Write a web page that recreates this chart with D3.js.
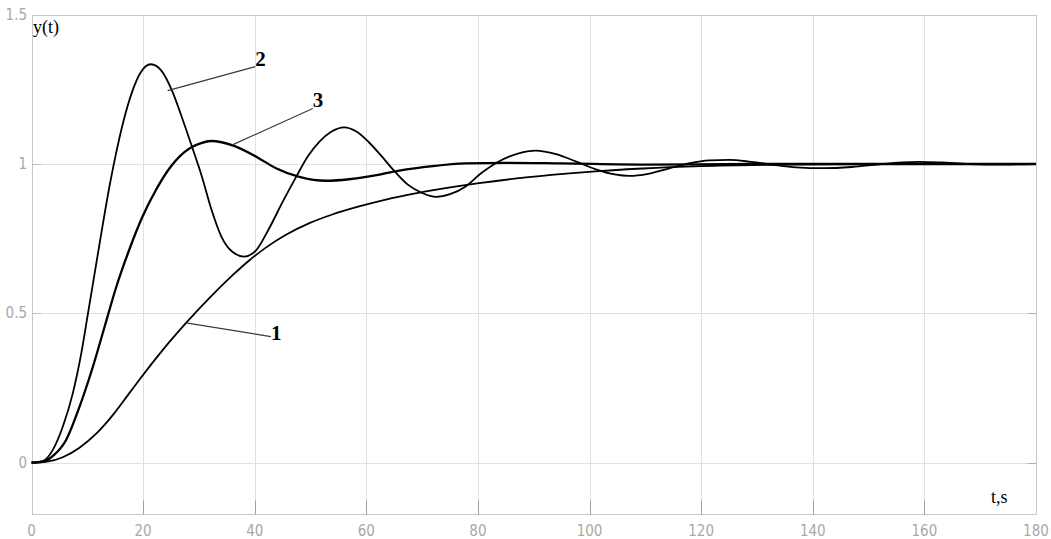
<!DOCTYPE html>
<html>
<head>
<meta charset="utf-8">
<script src="https://cdn.jsdelivr.net/npm/d3@7"></script>
<style>
  html, body { margin: 0; padding: 0; background: #fff; }
  svg { display: block; }
</style>
</head>
<body>
<svg id="chart" width="1051" height="539"></svg>
<script>
// ---- data ----
const xTicks = [0, 20, 40, 60, 80, 100, 120, 140, 160, 180];
const yTicks = [0, 0.5, 1, 1.5];
const yTickLabels = ["0", "0.5", "1", "1.5"];

const t1 = [0, 3, 5.6, 8.6, 11.6, 14.6, 17.5, 19.3, 23.5, 27.7, 31.9, 36, 39, 42, 45.6, 49.8, 53.9, 58.7, 63.5, 68.3, 73.1, 80.2, 88.6, 99.3, 109.5, 120, 135, 150, 180];
const y1 = [0, 0.004, 0.018, 0.05, 0.097, 0.16, 0.232, 0.277, 0.377, 0.468, 0.552, 0.627, 0.677, 0.72, 0.763, 0.802, 0.831, 0.858, 0.881, 0.9, 0.916, 0.936, 0.955, 0.973, 0.985, 0.993, 0.998, 1.0, 1.0];

const t2 = [0, 2, 3.8, 5.6, 7.4, 8.9, 10.1, 11.3, 12.5, 14.0, 15.2, 16.5, 18.0, 19.5, 21.4, 23.3, 25.2, 27.1, 28.9, 30.5, 32.2, 34.0, 36.0, 38.1, 40.2, 42.6, 45.0, 47.4, 49.5, 51.6, 53.7, 56.0, 58.3, 60.5, 62.7, 65.0, 67.5, 70.0, 72.5, 75.0, 77.8, 80.5, 83.5, 87, 90.4, 94, 97.5, 101, 104.5, 107.1, 110.5, 114, 118, 121.5, 125, 129, 133, 137, 142, 147, 152, 156, 159, 163, 168, 174, 180];
const y2 = [0, 0.005, 0.042, 0.12, 0.232, 0.364, 0.497, 0.632, 0.767, 0.928, 1.04, 1.145, 1.24, 1.305, 1.334, 1.312, 1.245, 1.148, 1.05, 0.96, 0.85, 0.758, 0.706, 0.69, 0.71, 0.785, 0.873, 0.956, 1.025, 1.075, 1.108, 1.123, 1.108, 1.072, 1.027, 0.977, 0.93, 0.903, 0.89, 0.899, 0.925, 0.968, 1.006, 1.034, 1.045, 1.033, 1.009, 0.983, 0.965, 0.96, 0.967, 0.984, 1.003, 1.012, 1.014, 1.007, 0.997, 0.989, 0.986, 0.99, 0.999, 1.005, 1.007, 1.005, 1.0, 0.998, 1.0];

const t3 = [0, 2, 4, 6.2, 8.6, 11.0, 13.1, 15.2, 17.5, 19.9, 22.3, 24.7, 27.4, 30.4, 32.2, 36.3, 40.5, 43.8, 48, 52.8, 56.9, 61.1, 65.9, 71.9, 77.8, 85, 95, 110, 130, 180];
const y3 = [0, 0.003, 0.025, 0.076, 0.187, 0.321, 0.455, 0.589, 0.712, 0.824, 0.913, 0.985, 1.04, 1.07, 1.077, 1.061, 1.022, 0.986, 0.957, 0.944, 0.949, 0.96, 0.978, 0.993, 1.002, 1.004, 1.002, 0.998, 1.0, 1.0];

// curve labels: name, leader start (t,y), leader end (t,y)
const labelNames = ["1", "2", "3"];
const labelFrom = [[27.7, 0.468], [24.4, 1.246], [36.0, 1.064]];
const labelTo = [[42.9, 0.422], [40.1, 1.326], [50.4, 1.186]];

// ---- drawing ----
const svg = d3.select("#chart");
const x = d3.scaleLinear().domain([0, 180]).range([31.5, 1036]);
const y = d3.scaleLinear().domain([-0.172, 1.5]).range([514, 14.7]);
const px = v => Math.round(x(v)) + 0.5;
const py = v => Math.round(y(v)) + 0.5;

const x0 = px(0), x1 = px(180), yTop = py(1.5), yBot = Math.round(y(-0.172)) + 0.5;

// grid
const g = svg.append("g");
g.selectAll("line.vg").data(xTicks.slice(1, -1)).join("line")
  .attr("x1", d => px(d)).attr("x2", d => px(d))
  .attr("y1", yTop).attr("y2", yBot)
  .attr("stroke", "#e0e0e0").attr("stroke-width", 1);
g.selectAll("line.hg").data(yTicks.slice(0, -1)).join("line")
  .attr("x1", x0).attr("x2", x1)
  .attr("y1", d => py(d)).attr("y2", d => py(d))
  .attr("stroke", "#e0e0e0").attr("stroke-width", 1);

// frame
g.append("rect").attr("x", x0).attr("y", yTop)
  .attr("width", x1 - x0).attr("height", yBot - yTop)
  .attr("fill", "none").attr("stroke", "#c8c8c8").attr("stroke-width", 1);

// ticks
g.selectAll("line.bt").data(xTicks.slice(1, -1)).join("line")
  .attr("x1", d => px(d)).attr("x2", d => px(d))
  .attr("y1", yBot - 14).attr("y2", yBot)
  .attr("stroke", "#a0a0a0");
g.selectAll("line.lt").data(yTicks.slice(0, -1)).join("line")
  .attr("x1", x0).attr("x2", x0 + 9)
  .attr("y1", d => py(d)).attr("y2", d => py(d))
  .attr("stroke", "#c0c0c0");
g.selectAll("line.rt").data(yTicks.slice(0, -1)).join("line")
  .attr("x1", x1 - 9).attr("x2", x1)
  .attr("y1", d => py(d)).attr("y2", d => py(d))
  .attr("stroke", "#b0b0b0");

// tick labels
const tickFont = "'Liberation Sans Narrow', 'DejaVu Sans Condensed', sans-serif";
g.selectAll("text.xl").data(xTicks).join("text")
  .attr("x", d => x(d)).attr("y", 536)
  .attr("text-anchor", "middle")
  .attr("font-family", tickFont).attr("font-size", 15)
  .attr("fill", "#a8a8a8")
  .text(d => d);
g.selectAll("text.yl").data(yTicks).join("text")
  .attr("x", 27).attr("y", d => y(d) + 5)
  .attr("text-anchor", "end")
  .attr("font-family", tickFont).attr("font-size", 15)
  .attr("fill", "#a8a8a8")
  .text((d, i) => yTickLabels[i]);

// curves
const line = d3.line().x(d => x(d[0])).y(d => y(d[1])).curve(d3.curveMonotoneX);
const series = [
  { t: t1, v: y1, w: 1.8 },
  { t: t2, v: y2, w: 1.8 },
  { t: t3, v: y3, w: 2.3 }
];
svg.append("g").selectAll("path").data(series).join("path")
  .attr("d", s => line(s.t.map((tt, i) => [tt, s.v[i]])))
  .attr("fill", "none").attr("stroke", "#000")
  .attr("stroke-width", s => s.w)
  .attr("stroke-linejoin", "round");

// leader lines and curve labels
const ann = svg.append("g");
ann.selectAll("line").data(labelNames).join("line")
  .attr("x1", (d, i) => x(labelFrom[i][0])).attr("y1", (d, i) => y(labelFrom[i][1]))
  .attr("x2", (d, i) => x(labelTo[i][0])).attr("y2", (d, i) => y(labelTo[i][1]))
  .attr("stroke", "#3a3a3a").attr("stroke-width", 1.2);
ann.selectAll("text").data(labelNames).join("text")
  .attr("x", (d, i) => x(labelTo[i][0]))
  .attr("y", (d, i) => y(labelTo[i][1]) + (d === "1" ? 3 : -1))
  .attr("font-family", "'Liberation Serif', 'Times New Roman', serif")
  .attr("font-size", 21).attr("font-weight", "bold")
  .attr("fill", "#000")
  .text(d => d);

// axis titles
svg.append("text").attr("x", 33).attr("y", 33)
  .attr("font-family", "'Liberation Serif', 'Times New Roman', serif")
  .attr("font-size", 18).attr("fill", "#000").text("y(t)");
svg.append("text").attr("x", 991).attr("y", 503)
  .attr("font-family", "'Liberation Serif', 'Times New Roman', serif")
  .attr("font-size", 18).attr("fill", "#000").text("t,s");
</script>
</body>
</html>
